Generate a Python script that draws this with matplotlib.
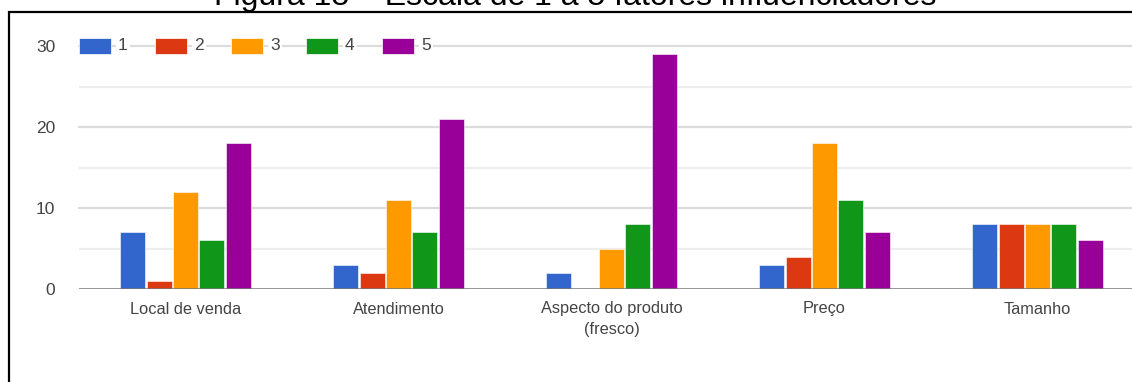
import matplotlib
matplotlib.use("Agg")
import matplotlib.pyplot as plt
import numpy as np
from matplotlib.patches import Rectangle

# Survey data: how much each factor influences purchase (scale 1 to 5)
categories = ["Local de venda", "Atendimento", "Aspecto do produto\n(fresco)", "Preço", "Tamanho"]
series_labels = ["1", "2", "3", "4", "5"]
score_1 = [7, 3, 2, 3, 8]
score_2 = [1, 2, 0, 4, 8]
score_3 = [12, 11, 5, 18, 8]
score_4 = [6, 7, 8, 11, 8]
score_5 = [18, 21, 29, 7, 6]
y_ticks = [0, 10, 20, 30]
title_text = "Figura 18 – Escala de 1 a 5 fatores influenciadores"

series = [score_1, score_2, score_3, score_4, score_5]
colors = ["#3366CC", "#DC3912", "#FF9900", "#109618", "#990099"]

plt.rcParams["font.family"] = ["Liberation Sans", "DejaVu Sans"]

W, H = 1132, 382
fig = plt.figure(figsize=(W / 100, H / 100), dpi=100)

# Caption above the framed chart
fig.text(575 / W, 1 - 5 / H, title_text, ha="center", va="baseline",
         fontsize=23, color="black")

# Frame around the chart
frame = Rectangle((9 / W, -0.1), 1.2, 1 - 11.5 / H + 0.1, transform=fig.transFigure,
                  fill=False, edgecolor="black", linewidth=1.6)
fig.patches.append(frame)

left_px, right_px = 79, 79 + 5 * 213
top_px, bottom_px = 46, 289
ax = fig.add_axes([left_px / W, 1 - bottom_px / H,
                   (right_px - left_px) / W, (bottom_px - top_px) / H])

x = np.arange(len(categories))
step = 0.124
bar_w = 0.118
for i, (vals, col) in enumerate(zip(series, colors)):
    offs = (i - 2) * step
    ax.bar(x + offs, vals, width=bar_w, color=col, edgecolor="white",
           linewidth=0.4, zorder=3)

ax.set_xlim(-0.5, len(categories) - 0.5)
ax.set_ylim(0, 30)

# Gridlines: major every 10, minor every 5
for v in [5, 15, 25]:
    ax.axhline(v, color="#EEEEEE", linewidth=1.6, zorder=1)
for v in [10, 20, 30]:
    ax.axhline(v, color="#DCDCDC", linewidth=1.6, zorder=1, clip_on=False)
ax.axhline(0, color="#777777", linewidth=1.8, zorder=4)

for s in ax.spines.values():
    s.set_visible(False)
ax.set_yticks(y_ticks)
ax.set_yticklabels([str(t) for t in y_ticks])
ax.tick_params(axis="y", length=0, pad=17, labelsize=12.5, labelcolor="#444444")
ax.set_xticks(x)
ax.set_xticklabels(categories, linespacing=1.45)
ax.tick_params(axis="x", length=0, pad=9, labelsize=11.8, labelcolor="#444444")

# Legend across the top, drawn over the 30 gridline
leg_y = 30
item_px = [79, 155, 231, 306, 382]
to_x = lambda px: (px - left_px) / (right_px - left_px) * 5 - 0.5
for px, lab, col in zip(item_px, series_labels, colors):
    x0 = to_x(px)
    x1 = to_x(px + 32)
    ax.add_patch(Rectangle((x0, leg_y - 0.95), x1 - x0, 1.9, facecolor=col,
                           edgecolor="white", linewidth=0.5, zorder=6, clip_on=False))
    ax.text(to_x(px + 39), leg_y, lab, ha="left", va="center", fontsize=12.5,
            color="#444444", zorder=6, clip_on=False,
            bbox=dict(facecolor="white", edgecolor="none", pad=1.5))

fig.savefig("out.png", dpi=100)
